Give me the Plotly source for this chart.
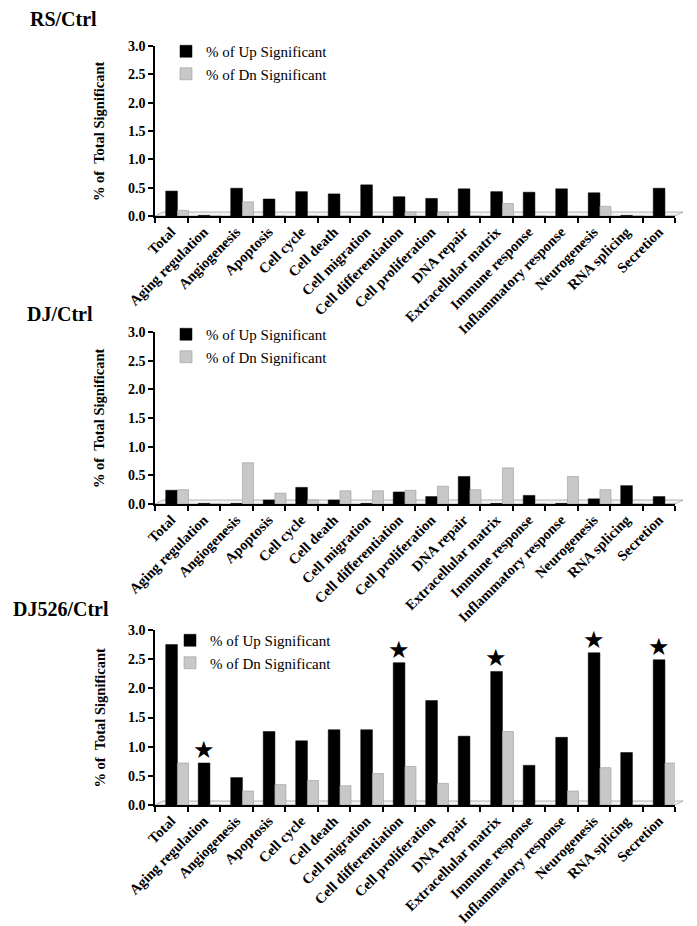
import plotly.graph_objects as go

categories = ["Total", "Aging regulation", "Angiogenesis", "Apoptosis", "Cell cycle",
              "Cell death", "Cell migration", "Cell differentiation", "Cell proliferation",
              "DNA repair", "Extracellular matrix", "Immune response",
              "Inflammatory response", "Neurogenesis", "RNA splicing", "Secretion"]

rs_up = [0.44, 0.01, 0.49, 0.30, 0.43, 0.39, 0.55, 0.34, 0.31, 0.48, 0.43, 0.42, 0.48, 0.41, 0.01, 0.49]
rs_dn = [0.10, 0.00, 0.25, 0.00, 0.00, 0.00, 0.00, 0.07, 0.07, 0.00, 0.22, 0.00, 0.00, 0.17, 0.00, 0.00]

dj_up = [0.24, 0.01, 0.01, 0.07, 0.29, 0.07, 0.01, 0.21, 0.13, 0.48, 0.01, 0.15, 0.01, 0.09, 0.32, 0.13]
dj_dn = [0.25, 0.00, 0.72, 0.19, 0.07, 0.23, 0.23, 0.24, 0.31, 0.25, 0.63, 0.00, 0.48, 0.25, 0.00, 0.00]

dj526_up = [2.75, 0.72, 0.47, 1.26, 1.10, 1.29, 1.29, 2.44, 1.79, 1.18, 2.29, 0.68, 1.16, 2.61, 0.90, 2.49]
dj526_dn = [0.72, 0.00, 0.24, 0.35, 0.42, 0.33, 0.54, 0.66, 0.37, 0.00, 1.26, 0.00, 0.24, 0.64, 0.00, 0.72]

starred = ["Aging regulation", "Cell differentiation", "Extracellular matrix", "Neurogenesis", "Secretion"]

panel_titles = ["RS/Ctrl", "DJ/Ctrl", "DJ526/Ctrl"]
y_ticks = [0.0, 0.5, 1.0, 1.5, 2.0, 2.5, 3.0]
series_names = ["% of Up Significant", "% of Dn Significant"]

W, H = 697, 926
def py(p):
    return 1 - p / H
def px(p):
    return p / W

# pixel geometry of each panel: (y of 3.0, y of 0.0, title y, legend top, legend x, title x)
panels = [
    (38, 208, 11, 27, 158, 20),
    (324, 496, 306, 310, 158, 17),
    (622, 797, 601, 616, 162, 3),
]
x_left, x_right = 147, 667

SERIF = "Liberation Serif"
UP_COLOR = "#000000"
DN_COLOR = "#c8c8c8"

fig = go.Figure()
data = [(rs_up, rs_dn), (dj_up, dj_dn), (dj526_up, dj526_dn)]
annotations = []
shapes = []
for i, ((up, dn), (ytop, ybot, ty, ltop, lx, tx)) in enumerate(zip(data, panels)):
    n = "" if i == 0 else str(i + 1)
    xa, ya = "x" + n, "y" + n
    lg = "legend" + n
    fig.add_trace(go.Bar(x=categories, y=up, name=series_names[0], marker_color=UP_COLOR,
                         marker_line=dict(color="#000000", width=0.5),
                         offset=-0.17, width=0.36, xaxis=xa, yaxis=ya, legend=lg))
    fig.add_trace(go.Bar(x=categories, y=dn, name=series_names[1], marker_color=DN_COLOR,
                         marker_line=dict(color="#9a9a9a", width=0.6),
                         offset=0.19, width=0.34, xaxis=xa, yaxis=ya, legend=lg))
    axis_common = dict(showgrid=False, zeroline=False, showline=True, linecolor="black",
                       linewidth=1.5, ticks="outside", ticklen=5, tickcolor="black", tickwidth=1.5)
    fig.update_layout(**{
        "xaxis" + n: dict(domain=[px(x_left), px(x_right)], anchor=ya, type="category",
                          range=[-0.5, len(categories) - 0.5], tickson="boundaries",
                          tickangle=-45,
                          tickfont=dict(family=SERIF, size=14.5, color="black", weight="bold"),
                          **axis_common),
        "yaxis" + n: dict(domain=[py(ybot), py(ytop)], anchor=xa, range=[0, 3.0],
                          tickvals=y_ticks, tickformat=".1f",
                          tickfont=dict(family=SERIF, size=14, color="black", weight="bold"),
                          **axis_common),
        lg: dict(x=px(lx), y=py(ltop), xanchor="left", yanchor="top",
                 bgcolor="rgba(0,0,0,0)", font=dict(family=SERIF, size=15, color="black"),
                 itemwidth=30, tracegroupgap=0),
    })
    # thin 3-D style floor outline
    dy = 4.0 / (ybot - ytop)
    dx = 8.0 / (x_right - x_left)
    shapes.append(dict(type="path", xref=xa + " domain", yref=ya + " domain", layer="below",
                       path=f"M 0,0 L {dx},{dy} L {1 + dx},{dy} L 1,0 Z",
                       line=dict(color="#a0a0a0", width=0.8), fillcolor="#f2f2f2"))
    annotations.append(dict(text="<b>" + panel_titles[i] + "</b>", x=px(tx),
                            y=py(ty), xref="paper", yref="paper", xanchor="left", yanchor="middle",
                            showarrow=False, font=dict(family=SERIF, size=20, color="black")))
    annotations.append(dict(text="<b>% of  Total Significant</b>", x=px(91), y=py((ytop + ybot) / 2),
                            xref="paper", yref="paper", xanchor="center", yanchor="middle",
                            textangle=-90, showarrow=False,
                            font=dict(family=SERIF, size=14.5, color="black")))

up3 = dict(zip(categories, dj526_up))
for c in starred:
    annotations.append(dict(text="★", x=c, y=up3[c], xref="x3", yref="y3", xanchor="center",
                            yanchor="bottom", yshift=-3, showarrow=False,
                            font=dict(family="DejaVu Sans", size=24, color="black")))

fig.update_layout(width=W, height=H, template="none", barmode="overlay",
                  font=dict(family=SERIF, color="black"),
                  margin=dict(l=0, r=0, t=0, b=0), paper_bgcolor="white", plot_bgcolor="white",
                  showlegend=True, annotations=annotations, shapes=shapes)

fig.write_html("out.html")
